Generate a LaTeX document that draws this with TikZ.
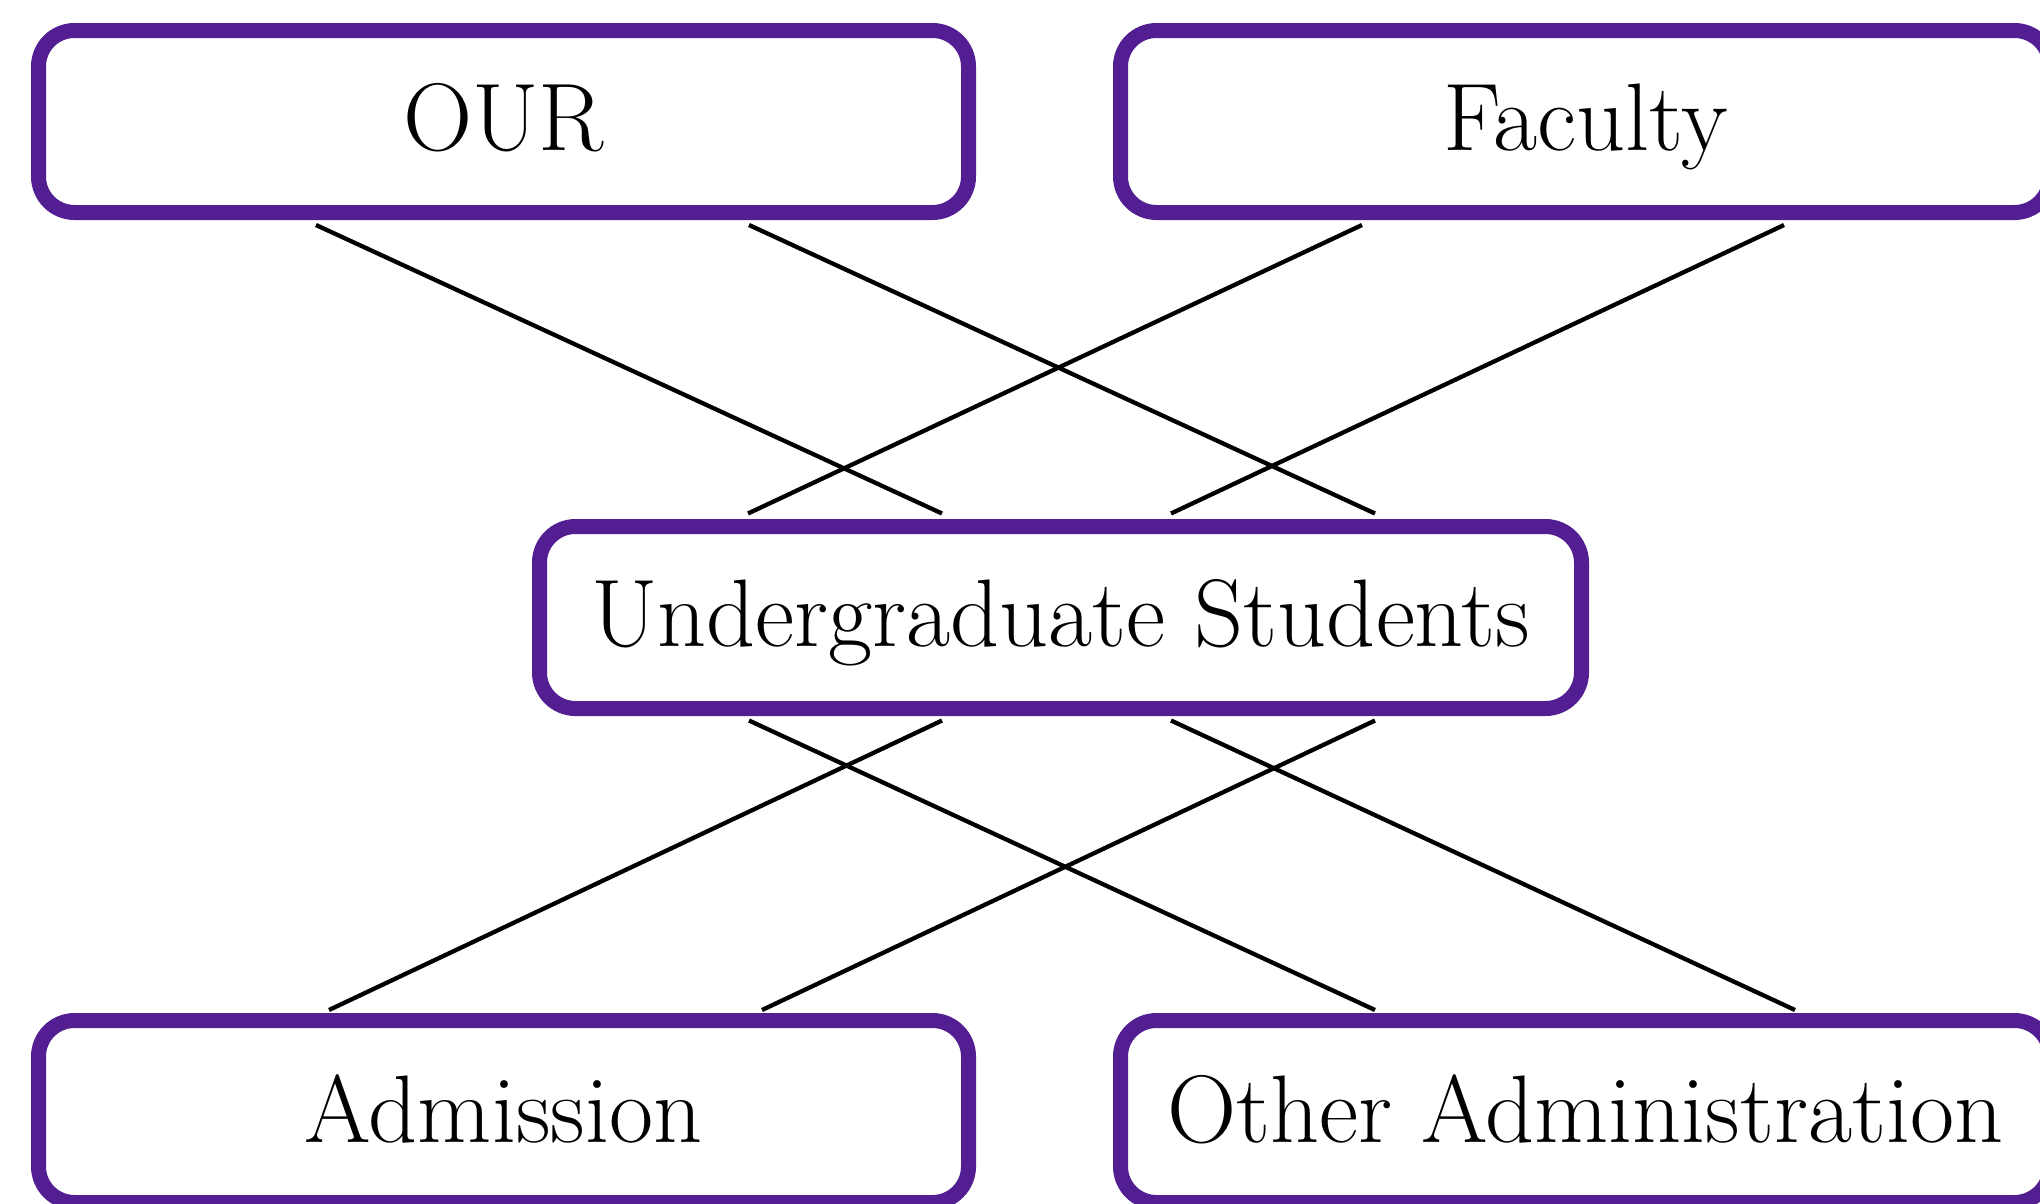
\documentclass[tikz,border=0pt]{standalone}
\usepackage{graphicx}
\definecolor{boxpurple}{RGB}{82,30,145}
\tikzset{
  unitbox/.style={draw=boxpurple, line width=15pt, fill=white, rounded corners=36pt,
    minimum width=930pt, minimum height=182pt, inner sep=0pt, outer sep=0pt,
    font=\fontsize{96}{100}\selectfont, text height=74pt, text depth=16pt},
  conn/.style={draw=black, line width=4.3pt}
}
\begin{document}
\begin{tikzpicture}[x=1pt,y=-1pt]
\fill[white] (0,0) rectangle (2040,1203);
\useasboundingbox (0,0) rectangle (2040,1203);
\clip (0,0) rectangle (2040,1203);
\node[unitbox] (our) at (503.5,121.5) {OUR};
\node[unitbox] (fac) at (1585.5,121.5) {Faculty};
\node[unitbox, minimum width=1042pt] (ug) at (1060.5,617.5) {Undergraduate Students};
\node[unitbox, text height=78pt] (adm) at (503.5,1111.5) {Admission};
\node[unitbox, text height=78pt] (oth) at (1585.5,1111.5) {Other Administration};
% top connectors
\draw[conn] ([xshift=-187.5pt,yshift=-12.5pt]our.south) -- ([xshift=-118.5pt,yshift=13pt]ug.north);
\draw[conn] ([xshift=245.5pt,yshift=-12.5pt]our.south) -- ([xshift=314.5pt,yshift=13pt]ug.north);
\draw[conn] ([xshift=-223.5pt,yshift=-12.5pt]fac.south) -- ([xshift=-312.5pt,yshift=13pt]ug.north);
\draw[conn] ([xshift=198.5pt,yshift=-12.5pt]fac.south) -- ([xshift=110.5pt,yshift=13pt]ug.north);
% bottom connectors
\draw[conn] ([xshift=-118.5pt,yshift=-12pt]ug.south) -- ([xshift=-174.5pt,yshift=10.5pt]adm.north);
\draw[conn] ([xshift=314.5pt,yshift=-12pt]ug.south) -- ([xshift=258.5pt,yshift=10.5pt]adm.north);
\draw[conn] ([xshift=-311.5pt,yshift=-12pt]ug.south) -- ([xshift=-210.5pt,yshift=10.5pt]oth.north);
\draw[conn] ([xshift=110.5pt,yshift=-12pt]ug.south) -- ([xshift=209.5pt,yshift=10.5pt]oth.north);
\end{tikzpicture}
\end{document}
